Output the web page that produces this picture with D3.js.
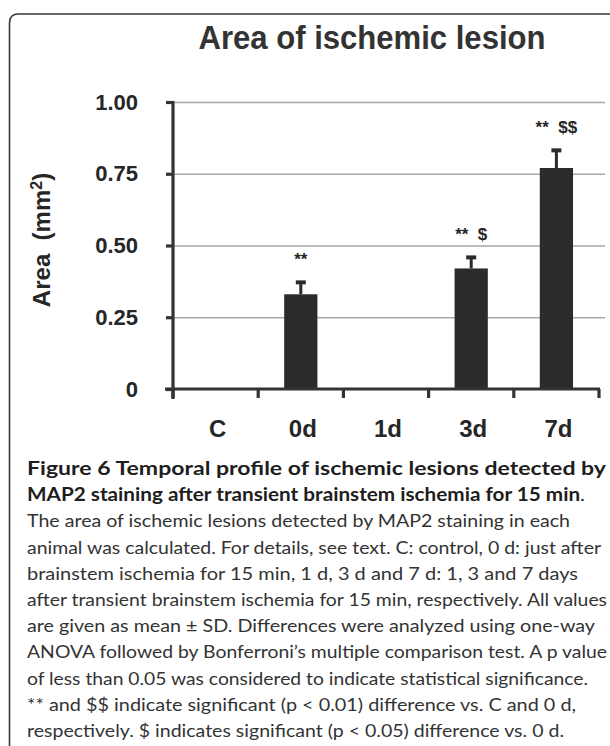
<!DOCTYPE html>
<html>
<head>
<meta charset="utf-8">
<script src="https://cdn.jsdelivr.net/npm/d3@7"></script>
<style>
  body { margin: 0; background: #fff; }
  svg text { font-family: "Liberation Sans", Arial, sans-serif; fill: #262626; }
  .caption { font-family: Lato, "Open Sans", sans-serif; }
</style>
</head>
<body>
<svg id="chart" width="610" height="746"></svg>
<script>
// ---------------- data ----------------
const categories = ["C", "0d", "1d", "3d", "7d"];
const means = [0, 0.33, 0, 0.42, 0.77];
const sds = [0, 0.045, 0, 0.042, 0.065];
const marks = ["", "**", "", "**  $", "**  $$"];
const yTicks = [0, 0.25, 0.5, 0.75, 1.0];

const titleText = "Area of ischemic lesion";
const captionBold = [
  "Figure 6 Temporal profile of ischemic lesions detected by",
  "MAP2 staining after transient brainstem ischemia for 15 min"
];
const captionBody = [
  "The area of ischemic lesions detected by MAP2 staining in each",
  "animal was calculated. For details, see text. C: control, 0 d: just after",
  "brainstem ischemia for 15 min, 1 d, 3 d and 7 d: 1, 3 and 7 days",
  "after transient brainstem ischemia for 15 min, respectively. All values",
  "are given as mean \u00b1 SD. Differences were analyzed using one-way",
  "ANOVA followed by Bonferroni\u2019s multiple comparison test. A p value",
  "of less than 0.05 was considered to indicate statistical significance.",
  "** and $$ indicate significant (p < 0.01) difference vs. C and 0 d,",
  "respectively. $ indicates significant (p < 0.05) difference vs. 0 d."
];

// ---------------- layout ----------------
const plot = { left: 173, right: 599, top: 102, bottom: 389 };
const captionX = 27, captionY = 475, captionStep = 26.2;
// right end of each caption line in the figure (bold lines first)
const captionEnds = [606, 585, 570, 601, 578, 607, 595, 607, 588, 576, 564];

const svg = d3.select("#chart");

// rounded frame, open on the right and bottom
svg.append("path")
  .attr("d", "M9.5,746 L9.5,23 Q9.5,14 18.5,14 L612,14")
  .attr("fill", "none")
  .attr("stroke", "#3a3a3a")
  .attr("stroke-width", 1.6);

svg.append("text")
  .attr("x", 372).attr("y", 49)
  .attr("text-anchor", "middle")
  .attr("textLength", 347).attr("lengthAdjust", "spacingAndGlyphs")
  .style("font-size", "34px").style("font-weight", "bold")
  .style("fill", "#333")
  .text(titleText);

const x = d3.scaleBand()
  .domain(categories)
  .range([plot.left, plot.right])
  .paddingInner(0.61)
  .paddingOuter(0.305);

const y = d3.scaleLinear()
  .domain([0, 1])
  .range([plot.bottom, plot.top]);

const fmt = d => d === 0 ? "0" : d3.format(".2f")(d);

// grid lines
const grid = svg.append("g")
  .attr("transform", "translate(" + plot.left + ",0)")
  .call(d3.axisLeft(y).tickValues(yTicks.filter(d => d > 0)).tickSize(-(plot.right + 6 - plot.left)).tickFormat(""));
grid.select(".domain").remove();
grid.selectAll("line").attr("stroke", "#a8a8a8").attr("stroke-width", 1.6);

// bars
const rows = categories.map((c, i) => ({ cat: c, mean: means[i], sd: sds[i], mark: marks[i] }));

svg.append("g").selectAll("rect")
  .data(rows.filter(d => d.mean > 0))
  .enter().append("rect")
  .attr("x", d => x(d.cat))
  .attr("y", d => y(d.mean))
  .attr("width", x.bandwidth())
  .attr("height", d => y(0) - y(d.mean))
  .attr("fill", "#2b2b2b");

// upper error bars
const err = svg.append("g").selectAll("g")
  .data(rows.filter(d => d.sd > 0))
  .enter().append("g");
err.append("line")
  .attr("x1", d => x(d.cat) + x.bandwidth() / 2)
  .attr("x2", d => x(d.cat) + x.bandwidth() / 2)
  .attr("y1", d => y(d.mean))
  .attr("y2", d => y(d.mean + d.sd))
  .attr("stroke", "#2b2b2b").attr("stroke-width", 3);
err.append("rect")
  .attr("x", d => x(d.cat) + x.bandwidth() / 2 - 5)
  .attr("y", d => y(d.mean + d.sd) - 1)
  .attr("width", 10).attr("height", 4)
  .attr("fill", "#2b2b2b");

// significance marks
svg.append("g").selectAll("text")
  .data(rows.filter(d => d.mark))
  .enter().append("text")
  .attr("x", d => x(d.cat) + x.bandwidth() / 2)
  .attr("y", d => y(d.mean + d.sd) - 16)
  .attr("text-anchor", "middle")
  .style("white-space", "pre")
  .style("font-size", "17px").style("font-weight", "bold")
  .text(d => d.mark);

// y axis
const yAxis = svg.append("g")
  .attr("transform", "translate(" + plot.left + ",0)")
  .call(d3.axisLeft(y).tickValues(yTicks).tickSize(7).tickPadding(28).tickFormat(fmt));
yAxis.select(".domain").attr("d", "M0," + (plot.top - 1) + "V" + (plot.bottom + 10))
  .attr("stroke", "#333").attr("stroke-width", 3.2);
yAxis.selectAll(".tick line").attr("stroke", "#333").attr("stroke-width", 3.2);
yAxis.selectAll(".tick text")
  .style("font-size", "22px").style("font-weight", "bold")
  .attr("fill", "#262626");

// x axis: labels under the bands, ticks on the band boundaries
const xAxis = svg.append("g")
  .attr("transform", "translate(0," + plot.bottom + ")")
  .call(d3.axisBottom(x).tickSize(0).tickPadding(31));
xAxis.select(".domain").attr("d", "M" + (plot.left - 8) + ",0H" + (plot.right + 1))
  .attr("stroke", "#333").attr("stroke-width", 3.2);
xAxis.selectAll(".tick text")
  .style("font-size", "24px").style("font-weight", "bold")
  .attr("dx", 2)
  .attr("fill", "#262626");

const edges = categories.map(c => x(c) - x.step() * x.paddingInner() / 2).concat([plot.right]);
xAxis.selectAll(".edge")
  .data(edges)
  .enter().append("line")
  .attr("class", "edge")
  .attr("x1", d => d).attr("x2", d => d)
  .attr("y1", 0).attr("y2", 9)
  .attr("stroke", "#333").attr("stroke-width", 3.2);

// y title
const yTitle = svg.append("text")
  .attr("transform", "translate(50,240) rotate(-90)")
  .attr("text-anchor", "middle")
  .style("font-size", "24px").style("font-weight", "bold")
  .style("white-space", "pre");
yTitle.append("tspan").text("Area  (mm");
yTitle.append("tspan").attr("dy", -8).style("font-size", "16px").text("2");
yTitle.append("tspan").attr("dy", 8).text(")");

// caption
const cap = svg.append("g").attr("class", "caption");
captionBold.forEach((t, i) => {
  const tx = cap.append("text")
    .attr("class", "caption")
    .attr("x", captionX).attr("y", captionY + i * captionStep)
    .attr("textLength", captionEnds[i] - captionX).attr("lengthAdjust", "spacingAndGlyphs")
    .style("font-size", "18px").style("fill", "#1e1e1e");
  tx.append("tspan").style("font-weight", "bold").text(t);
  if (i === 1) tx.append("tspan").text(".");
});
captionBody.forEach((t, i) => {
  const k = i + captionBold.length;
  cap.append("text")
    .attr("class", "caption")
    .attr("x", captionX).attr("y", captionY + k * captionStep)
    .attr("textLength", captionEnds[k] - captionX).attr("lengthAdjust", "spacingAndGlyphs")
    .style("font-size", "18px").style("fill", "#333")
    .text(t);
});
</script>
</body>
</html>
